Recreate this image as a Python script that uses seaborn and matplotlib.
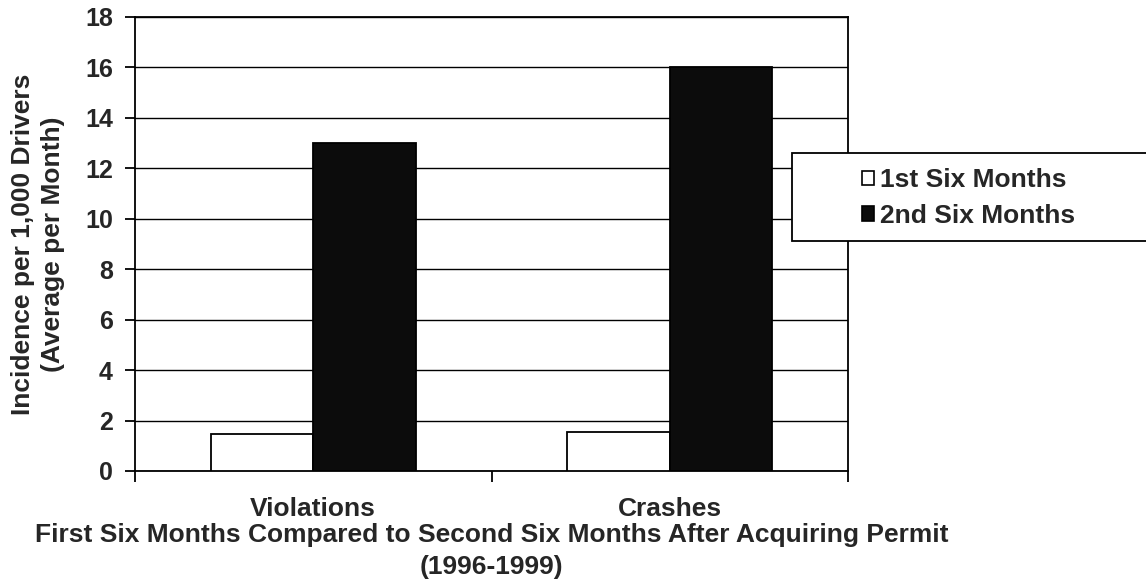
import matplotlib
matplotlib.use("Agg")
import matplotlib.pyplot as plt
from matplotlib.patches import Patch, Rectangle
import seaborn as sns
import pandas as pd

categories = ["Violations", "Crashes"]
series = ["1st Six Months", "2nd Six Months"]
first_six = [1.45, 1.55]
second_six = [13.0, 16.0]
y_ticks = [0, 2, 4, 6, 8, 10, 12, 14, 16, 18]

df = pd.DataFrame({
    "category": categories * 2,
    "period": [series[0]] * len(categories) + [series[1]] * len(categories),
    "value": first_six + second_six,
})

sns.set_style("white")
plt.rcParams["font.family"] = ["Liberation Sans", "DejaVu Sans"]
plt.rcParams["font.weight"] = "bold"

W, H = 1146, 584
fig = plt.figure(figsize=(W / 100, H / 100), dpi=100)
ax = fig.add_axes([135 / W, 1 - 471 / H, (848 - 135) / W, (471 - 17) / H])

sns.barplot(data=df, x="category", y="value", hue="period", order=categories,
            hue_order=series, palette=["white", "#0c0c0c"], width=0.575,
            edgecolor="black", linewidth=1.3, saturation=1, ax=ax, zorder=3,
            legend=False)

ax.set_xlim(-0.5, 1.5)
ax.set_ylim(0, 18)
ax.set_yticks(y_ticks)
ax.yaxis.grid(True, color="black", linewidth=1.0, zorder=0)
ax.set_axisbelow(True)
for s in ax.spines.values():
    s.set_color("black")
    s.set_linewidth(1.3)
    s.set_visible(True)

FS = 19
ax.set_xticks([-0.5, 0.5, 1.5])
ax.set_xticklabels([])
ax.set_xticks([0, 1], minor=True)
ax.set_xticklabels(categories, minor=True, fontsize=FS, fontweight="bold")
ax.tick_params(axis="x", which="major", length=8, direction="out", color="black", width=1.3, bottom=True)
ax.tick_params(axis="x", which="minor", length=0, pad=19)
ax.tick_params(axis="y", length=7, direction="out", color="black", width=1.3, left=True,
               labelsize=18, pad=9)
for t in ax.get_yticklabels():
    t.set_fontweight("bold")

ax.set_xlabel("First Six Months Compared to Second Six Months After Acquiring Permit\n(1996-1999)",
              fontsize=FS, fontweight="bold", linespacing=1.4)
ax.xaxis.set_label_coords(0.5, (471 - 523) / 454, transform=ax.transAxes)
ax.xaxis.label.set_va("top")
ax.set_ylabel("Incidence per 1,000 Drivers\n(Average per Month)", fontsize=FS,
              fontweight="bold", linespacing=1.3)
ax.yaxis.set_label_coords((38 - 135) / 713, 0.5, transform=ax.transAxes)
ax.yaxis.label.set_va("center")

# legend box extending past the right edge
fig.patches.append(Rectangle((792 / W, 1 - 241 / H), (1160 - 792) / W, (241 - 153) / H,
                             transform=fig.transFigure, facecolor="white", edgecolor="black",
                             linewidth=1.3, zorder=5, clip_on=False))
handles = [Patch(facecolor="white", edgecolor="black", linewidth=1.2),
           Patch(facecolor="#0c0c0c", edgecolor="black", linewidth=1.2)]
leg = fig.legend(handles, series, loc="upper left", bbox_to_anchor=(862 / W, 1 - 168 / H),
                 frameon=False, prop={"weight": "bold", "size": FS},
                 handlelength=0.45, handleheight=0.45, handletextpad=0.22,
                 borderpad=0.0, labelspacing=0.45, borderaxespad=0)
leg.set_zorder(6)

fig.savefig("out.png", dpi=100)
